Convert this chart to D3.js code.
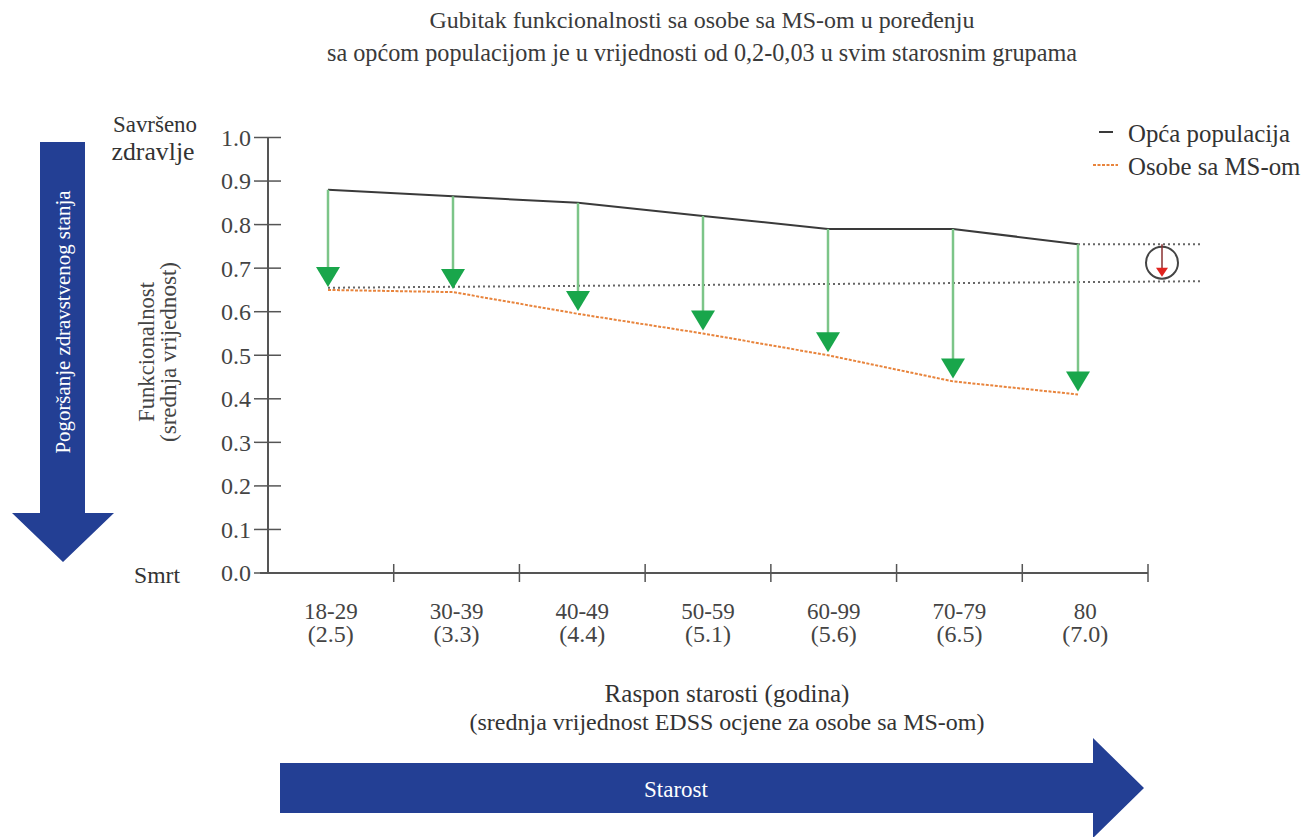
<!DOCTYPE html>
<html>
<head>
<meta charset="utf-8">
<script src="https://cdn.jsdelivr.net/npm/d3@7"></script>
<style>
  html, body { margin: 0; padding: 0; background: #fff; }
  svg { display: block; }
</style>
</head>
<body>
<svg id="chart" width="1308" height="837"></svg>
<script>
// ---- data ----
const categories = ["18-29", "30-39", "40-49", "50-59", "60-99", "70-79", "80"];
const edss = ["(2.5)", "(3.3)", "(4.4)", "(5.1)", "(5.6)", "(6.5)", "(7.0)"];
const generalPopulation = [0.88, 0.865, 0.85, 0.82, 0.79, 0.79, 0.755];
const msPopulation = [0.65, 0.645, 0.595, 0.55, 0.50, 0.44, 0.41];
const yTicks = [0.0, 0.1, 0.2, 0.3, 0.4, 0.5, 0.6, 0.7, 0.8, 0.9, 1.0];
const refLow = [0.655, 0.67];   // lower dotted reference (start, end)
const refHigh = 0.755;          // upper dotted reference
const titleLines = [
  "Gubitak funkcionalnosti sa osobe sa MS-om u poređenju",
  "sa općom populacijom je u vrijednosti od 0,2-0,03 u svim starosnim grupama"
];
const legendLabels = ["Opća populacija", "Osobe sa MS-om"];
const xTitleLines = ["Raspon starosti (godina)", "(srednja vrijednost EDSS ocjene za osobe sa MS-om)"];
const yTitleLines = ["Funkcionalnost", "(srednja vrijednost)"];

// ---- layout ----
const FONT = "Liberation Serif";
const svg = d3.select("#chart");
const X0 = 268, X1 = 1148, Y0 = 573, Y1 = 137.5;
const BLUE = "#233f94", GREEN = "#19a64b", SHAFT = "#7cc588", ORANGE = "#e8843c", INK = "#3a3a3a";

const xBand = d3.scaleBand().domain(categories).range([X0, X1]).padding(0);
const xPt = d3.scalePoint().domain(categories).range([X0 + 60, X1 - 70]);
const y = d3.scaleLinear().domain([0, 1]).range([Y0, Y1]);

function txt(parent) {
  return parent.append("text").style("font-family", FONT);
}
function fit(sel, w) {
  sel.each(function() {
    const cur = parseFloat(this.getAttribute("font-size"));
    const len = this.getComputedTextLength();
    if (len > 0) this.setAttribute("font-size", (cur * w / len).toFixed(2));
  });
}

// ---- title ----
const titleW = [545, 750];
titleLines.forEach((t, i) => {
  txt(svg).attr("x", 702).attr("y", 20 + i * 33).attr("dy", "0.35em")
    .attr("text-anchor", "middle").attr("font-size", 18).attr("fill", "#3a3a3a")
    .text(t).call(fit, titleW[i]);
});

// ---- left blue arrow ----
svg.append("path")
  .attr("d", `M40,142 L85,142 L85,513 L114,513 L63,562 L12,513 L40,513 Z`)
  .attr("fill", BLUE);
txt(svg).attr("transform", "translate(63,322) rotate(-90)")
  .attr("dy", "0.35em").attr("text-anchor", "middle").attr("fill", "#fff")
  .attr("font-size", 18).text("Pogoršanje zdravstvenog stanja").call(fit, 263);

// ---- bottom blue arrow ----
svg.append("path")
  .attr("d", `M280,763 L1093,763 L1093,738 L1144,788 L1093,838 L1093,813 L280,813 Z`)
  .attr("fill", BLUE);
txt(svg).attr("x", 676).attr("y", 789).attr("dy", "0.35em")
  .attr("text-anchor", "middle").attr("fill", "#fff").attr("font-size", 17)
  .text("Starost").call(fit, 64);

// ---- y axis ----
svg.append("line").attr("x1", X0).attr("x2", X0).attr("y1", y(1)).attr("y2", y(0))
  .attr("stroke", "#555").attr("stroke-width", 2);
const yt = svg.append("g").selectAll("g").data(yTicks).join("g");
yt.append("line").attr("x1", X0 - 14).attr("x2", X0 + 13)
  .attr("y1", d => y(d)).attr("y2", d => y(d)).attr("stroke", "#555").attr("stroke-width", 1.5);
yt.append("text").style("font-family", FONT).attr("x", X0 - 17).attr("y", d => y(d)).attr("dy", "0.35em")
  .attr("text-anchor", "end").attr("font-size", 24).attr("fill", "#444")
  .text(d => d.toFixed(1));

txt(svg).attr("x", 155).attr("y", 124).attr("dy", "0.35em").attr("text-anchor", "middle")
  .attr("font-size", 19).attr("fill", "#333").text("Savršeno").call(fit, 84);
txt(svg).attr("x", 153).attr("y", 151).attr("dy", "0.35em").attr("text-anchor", "middle")
  .attr("font-size", 19).attr("fill", "#333").text("zdravlje").call(fit, 83);
txt(svg).attr("x", 157).attr("y", 575).attr("dy", "0.35em").attr("text-anchor", "middle")
  .attr("font-size", 19).attr("fill", "#333").text("Smrt").call(fit, 46);

const yTitleW = [140, 180];
yTitleLines.forEach((t, i) => {
  txt(svg).attr("transform", `translate(${146 + i * 22},352) rotate(-90)`)
    .attr("dy", "0.35em").attr("text-anchor", "middle").attr("font-size", 19)
    .attr("fill", "#444").text(t).call(fit, yTitleW[i]);
});

// ---- x axis ----
svg.append("line").attr("x1", X0 - 8).attr("x2", X1).attr("y1", Y0).attr("y2", Y0)
  .attr("stroke", "#555").attr("stroke-width", 2);
const xTickPos = categories.map(c => xBand(c)).concat([X1]);
svg.append("g").selectAll("line").data(xTickPos.slice(1)).join("line")
  .attr("x1", d => d).attr("x2", d => d).attr("y1", Y0 - 9).attr("y2", Y0 + 9)
  .attr("stroke", "#555").attr("stroke-width", 1.5);
const xl = svg.append("g").selectAll("g").data(categories).join("g");
xl.append("text").style("font-family", FONT).attr("x", c => xBand(c) + xBand.bandwidth() / 2)
  .attr("y", 611).attr("dy", "0.35em")
  .attr("text-anchor", "middle").attr("font-size", 23).attr("fill", "#444").text(c => c);
xl.append("text").style("font-family", FONT).attr("x", c => xBand(c) + xBand.bandwidth() / 2)
  .attr("y", 634).attr("dy", "0.35em")
  .attr("text-anchor", "middle").attr("font-size", 24).attr("fill", "#444")
  .text((c, i) => edss[i]);

const xTitleW = [245, 515];
xTitleLines.forEach((t, i) => {
  txt(svg).attr("x", 727).attr("y", 693 + i * 29).attr("dy", "0.35em")
    .attr("text-anchor", "middle").attr("font-size", 18).attr("fill", "#333")
    .text(t).call(fit, xTitleW[i]);
});

// ---- reference dotted lines ----
svg.append("line").attr("x1", xPt(categories[0])).attr("x2", 1200)
  .attr("y1", y(refLow[0])).attr("y2", y(refLow[1]))
  .attr("stroke", "#666").attr("stroke-width", 2).attr("stroke-dasharray", "2,3");
svg.append("line").attr("x1", xPt(categories[6])).attr("x2", 1200)
  .attr("y1", y(refHigh)).attr("y2", y(refHigh))
  .attr("stroke", "#666").attr("stroke-width", 2).attr("stroke-dasharray", "2,3");

// ---- lines ----
const lineGen = d3.line().x((d, i) => xPt(categories[i])).y(d => y(d));
svg.append("path").datum(msPopulation).attr("d", lineGen).attr("fill", "none")
  .attr("stroke", ORANGE).attr("stroke-width", 2).attr("stroke-dasharray", "3,1.5");
svg.append("path").datum(generalPopulation).attr("d", lineGen).attr("fill", "none")
  .attr("stroke", INK).attr("stroke-width", 2);

// ---- green arrows ----
const arrows = svg.append("g").selectAll("g").data(categories).join("g");
arrows.append("line")
  .attr("x1", c => xPt(c)).attr("x2", c => xPt(c))
  .attr("y1", (c, i) => y(generalPopulation[i]))
  .attr("y2", (c, i) => y(msPopulation[i]) - 22)
  .attr("stroke", SHAFT).attr("stroke-width", 2.5);
arrows.append("path")
  .attr("d", (c, i) => {
    const cx = xPt(c), tip = y(msPopulation[i]) - 3;
    return `M${cx - 12},${tip - 20} L${cx + 12},${tip - 20} L${cx},${tip} Z`;
  })
  .attr("fill", GREEN);

// ---- circle indicator ----
const cx = 1162, cy = (y(refHigh) + y(refLow[1])) / 2;
svg.append("circle").attr("cx", cx).attr("cy", cy).attr("r", 16)
  .attr("fill", "#fff").attr("fill-opacity", 0.6).attr("stroke", "#444").attr("stroke-width", 2);
svg.append("line").attr("x1", cx).attr("x2", cx).attr("y1", y(refHigh)).attr("y2", cy + 6)
  .attr("stroke", "#8a3030").attr("stroke-width", 1.5);
svg.append("path").attr("d", `M${cx - 6},${cy + 5} L${cx + 6},${cy + 5} L${cx},${cy + 14} Z`)
  .attr("fill", "#e0241f");

// ---- legend ----
svg.append("line").attr("x1", 1099).attr("x2", 1113).attr("y1", 132).attr("y2", 132)
  .attr("stroke", INK).attr("stroke-width", 2);
svg.append("line").attr("x1", 1093).attr("x2", 1118).attr("y1", 165).attr("y2", 165)
  .attr("stroke", ORANGE).attr("stroke-width", 2).attr("stroke-dasharray", "3,1.5");
const lg1 = txt(svg).attr("x", 1128).attr("y", 133).attr("dy", "0.35em")
  .attr("font-size", 20).attr("fill", "#333").text(legendLabels[0]).call(fit, 162);
txt(svg).attr("x", 1128).attr("y", 166).attr("dy", "0.35em")
  .attr("font-size", lg1.attr("font-size")).attr("fill", "#333").text(legendLabels[1]);
</script>
</body>
</html>
